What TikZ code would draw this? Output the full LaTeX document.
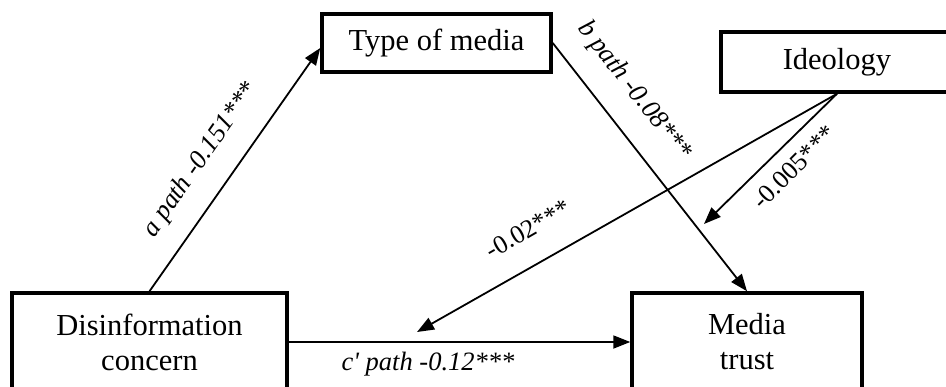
\documentclass[tikz,border=0pt]{standalone}
\usepackage{fontspec}
\setmainfont{Liberation Serif}
\usetikzlibrary{arrows.meta,calc}
\begin{document}
\begin{tikzpicture}[x=1pt,y=-1pt,
  box/.style={draw, line width=3.5pt, align=center, inner sep=0pt,
    font=\fontsize{30.5}{35}\selectfont},
  conn/.style={line width=1.8pt, -{Triangle[length=17pt,width=13pt]}},
  lbl/.style={font=\fontsize{26.5}{30}\selectfont\itshape, inner sep=0pt},
  lblup/.style={font=\fontsize{26}{30}\selectfont, inner sep=0pt}]
\useasboundingbox (0,0) rectangle (946,386);
\clip (0,0) rectangle (946,386);
\fill[white] (0,0) rectangle (946,386);
% boxes
\node[box, minimum width=275pt, minimum height=98pt] (dis) at (149.5,342) {Disinformation\\concern};
\node[box, minimum width=230pt, minimum height=98pt] (trust) at (747,342) {Media\\trust};
\node[box, minimum width=229pt, minimum height=58pt] (type) at (436.5,43) {Type of media};
\node[box, minimum width=232pt, minimum height=60pt] (ideo) at (837,62) {Ideology};
% connectors
\coordinate (m1) at (704,224);
\coordinate (m2) at (417,332);
\draw[conn] (dis.north) -- ($(type.west)+(0,5)$);
\draw[conn] (type.east) -- (trust.north);
\draw[conn] (dis.east) -- (trust.west);
\draw[conn] (ideo.south) -- (m1);
\draw[conn] (ideo.south) -- (m2);
% labels
\node[lbl, rotate=55] (la) at (201,160) {a path -0.151***};
\node[lbl, rotate=-52] (lb) at (634,91) {b path -0.08***};
\node[lbl] (lc) at (428,364) {c\textquotesingle{} path -0.12***};
\node[lblup, rotate=45] (ld) at (794,167) {-0.005***};
\node[lblup, rotate=30] (le) at (528,229) {-0.02***};
\end{tikzpicture}
\end{document}
